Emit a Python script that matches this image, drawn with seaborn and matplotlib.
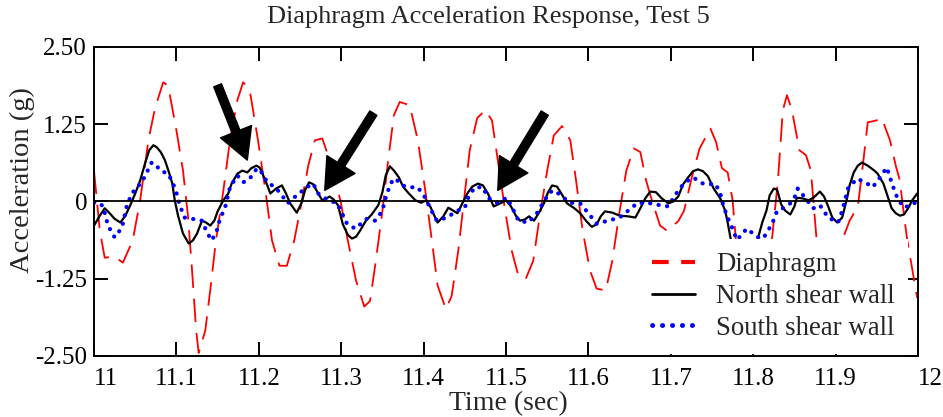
import matplotlib
matplotlib.use('Agg')
import matplotlib.pyplot as plt
import seaborn as sns
import pandas as pd

# Values (time in sec, acceleration in g)
diaphragm_t = [11.000, 11.007, 11.013, 11.025, 11.035, 11.047, 11.056, 11.066, 11.074, 11.084,
               11.090, 11.100, 11.108, 11.114, 11.119, 11.124, 11.127, 11.135, 11.141, 11.148,
               11.157, 11.165, 11.174, 11.181, 11.189, 11.199, 11.208, 11.216, 11.225, 11.234,
               11.243, 11.250, 11.260, 11.268, 11.277, 11.286, 11.299, 11.308, 11.318, 11.328,
               11.335, 11.342, 11.350, 11.357, 11.364, 11.371, 11.383, 11.393, 11.402, 11.410,
               11.417, 11.427, 11.434, 11.442, 11.449, 11.456, 11.465, 11.475, 11.483, 11.490,
               11.499, 11.507, 11.515, 11.524, 11.533, 11.541, 11.550, 11.558, 11.568, 11.578,
               11.585, 11.593, 11.602, 11.610, 11.621, 11.629, 11.637, 11.646, 11.655, 11.663,
               11.670, 11.677, 11.687, 11.695, 11.709, 11.716, 11.726, 11.735, 11.748, 11.755,
               11.762, 11.769, 11.775, 11.779, 11.790, 11.806, 11.823, 11.830, 11.836, 11.841,
               11.847, 11.856, 11.864, 11.870, 11.874, 11.877, 11.893, 11.911, 11.917, 11.927,
               11.933, 11.939, 11.949, 11.956, 11.966, 11.973, 11.978, 11.983, 11.987, 11.999]
diaphragm_g = [0.50, -0.47, -0.91, -0.89, -0.99, -0.63, 0.02, 0.99, 1.51, 1.93,
               1.87, 1.15, 0.50, -0.23, -1.12, -2.09, -2.45, -2.09, -1.44, -0.63,
               0.18, 0.99, 1.64, 1.93, 1.80, 0.99, 0.18, -0.63, -1.04, -1.04,
               -0.63, -0.15, 0.58, 0.99, 1.02, 0.67, 0.02, -0.63, -1.28, -1.70,
               -1.61, -0.96, -0.15, 0.67, 1.40, 1.61, 1.56, 0.99, 0.18, -0.63,
               -1.36, -1.74, -1.53, -0.80, 0.02, 0.83, 1.35, 1.48, 1.31, 0.67,
               -0.15, -0.80, -1.20, -1.25, -0.96, -0.23, 0.50, 1.07, 1.22, 0.99,
               0.34, -0.47, -1.12, -1.41, -1.44, -0.96, -0.23, 0.50, 0.86, 0.80,
               0.34, 0.02, -0.39, -0.47, -0.32, -0.15, 0.42, 0.86, 1.18, 0.96,
               0.54, 0.47, 0.02, -0.63, -1.60, -1.28, -0.58, 0.34, 1.48, 1.72,
               1.48, 0.83, 0.75, 0.50, -0.15, -0.63, -1.45, -0.52, -0.31, -0.08,
               0.58, 1.28, 1.31, 1.35, 0.99, 0.58, 0.34, -0.23, -0.63, -1.56]

north_t = [11.000, 11.007, 11.013, 11.019, 11.025, 11.032, 11.038, 11.044, 11.050, 11.056,
           11.062, 11.067, 11.072, 11.076, 11.081, 11.086, 11.091, 11.095, 11.098, 11.102,
           11.108, 11.115, 11.120, 11.125, 11.131, 11.136, 11.141, 11.146, 11.150, 11.157,
           11.163, 11.167, 11.174, 11.180, 11.186, 11.191, 11.197, 11.201, 11.208, 11.214,
           11.221, 11.228, 11.233, 11.238, 11.246, 11.252, 11.256, 11.261, 11.266, 11.272,
           11.277, 11.282, 11.286, 11.291, 11.296, 11.302, 11.308, 11.313, 11.318, 11.323,
           11.330, 11.337, 11.345, 11.350, 11.354, 11.359, 11.364, 11.370, 11.375, 11.382,
           11.390, 11.397, 11.403, 11.408, 11.413, 11.417, 11.424, 11.430, 11.436, 11.441,
           11.447, 11.453, 11.459, 11.466, 11.472, 11.478, 11.485, 11.493, 11.500, 11.506,
           11.512, 11.517, 11.523, 11.528, 11.534, 11.540, 11.546, 11.551, 11.556, 11.562,
           11.568, 11.574, 11.583, 11.590, 11.597, 11.604, 11.610, 11.615, 11.620, 11.629,
           11.638, 11.648, 11.657, 11.663, 11.669, 11.675, 11.682, 11.689, 11.697, 11.703,
           11.709, 11.715, 11.721, 11.727, 11.733, 11.739, 11.745, 11.752, 11.760, 11.766,
           11.769, 11.773, 11.784, 11.796, 11.805, 11.811, 11.816, 11.820, 11.825, 11.829,
           11.834, 11.839, 11.845, 11.850, 11.853, 11.860, 11.867, 11.873, 11.881, 11.886,
           11.891, 11.896, 11.902, 11.908, 11.914, 11.917, 11.922, 11.927, 11.932, 11.939,
           11.947, 11.951, 11.958, 11.962, 11.968, 11.973, 11.978, 11.983, 11.988, 11.993,
           11.999]
north_g = [-0.39, -0.23, -0.11, -0.19, -0.28, -0.34, -0.23, -0.06, 0.13, 0.34,
           0.62, 0.83, 0.91, 0.88, 0.80, 0.67, 0.47, 0.29, 0.02, -0.23,
           -0.52, -0.68, -0.63, -0.52, -0.31, -0.34, -0.39, -0.31, -0.16, 0.02,
           0.13, 0.29, 0.45, 0.50, 0.47, 0.54, 0.58, 0.55, 0.34, 0.13,
           0.21, 0.26, 0.13, -0.03, -0.18, -0.02, 0.18, 0.31, 0.28, 0.13,
           0.02, 0.05, 0.08, 0.03, -0.06, -0.37, -0.54, -0.60, -0.57, -0.47,
           -0.31, -0.21, -0.06, 0.15, 0.42, 0.57, 0.50, 0.39, 0.24, 0.13,
           0.02, -0.02, 0.02, -0.08, -0.23, -0.34, -0.24, -0.10, -0.15, -0.19,
           -0.03, 0.13, 0.24, 0.29, 0.26, 0.13, -0.08, -0.03, 0.02, -0.08,
           -0.23, -0.31, -0.29, -0.24, -0.31, -0.18, -0.03, 0.15, 0.26, 0.24,
           0.11, -0.03, -0.11, -0.19, -0.31, -0.41, -0.37, -0.24, -0.16, -0.18,
           -0.23, -0.24, -0.26, -0.11, 0.05, 0.16, 0.15, 0.05, -0.03, 0.00,
           0.08, 0.28, 0.39, 0.49, 0.52, 0.49, 0.41, 0.21, 0.05, -0.15,
           -0.34, -0.63, -0.83, -0.80, -0.63, -0.34, -0.15, 0.10, 0.21, 0.19,
           -0.05, -0.15, -0.21, -0.08, 0.06, 0.05, 0.02, 0.06, 0.16, 0.08,
           -0.08, -0.26, -0.34, -0.26, 0.06, 0.26, 0.47, 0.58, 0.63, 0.58,
           0.50, 0.45, 0.29, 0.13, -0.11, -0.19, -0.23, -0.21, -0.11, 0.02,
           0.13]

south_t = [11.000, 11.006, 11.011, 11.017, 11.025, 11.034, 11.040, 11.046, 11.052, 11.058,
           11.064, 11.070, 11.075, 11.080, 11.090, 11.096, 11.101, 11.104, 11.110, 11.119,
           11.131, 11.137, 11.143, 11.149, 11.153, 11.159, 11.165, 11.174, 11.181, 11.189,
           11.198, 11.205, 11.210, 11.220, 11.228, 11.235, 11.246, 11.258, 11.266, 11.272,
           11.283, 11.295, 11.301, 11.307, 11.317, 11.323, 11.331, 11.341, 11.350, 11.353,
           11.357, 11.363, 11.368, 11.374, 11.383, 11.393, 11.402, 11.408, 11.416, 11.428,
           11.441, 11.450, 11.454, 11.462, 11.472, 11.478, 11.489, 11.501, 11.508, 11.515,
           11.527, 11.538, 11.545, 11.553, 11.559, 11.566, 11.578, 11.590, 11.600, 11.610,
           11.624, 11.638, 11.648, 11.660, 11.675, 11.687, 11.697, 11.705, 11.714, 11.721,
           11.727, 11.733, 11.739, 11.748, 11.754, 11.760, 11.763, 11.768, 11.775, 11.780,
           11.786, 11.792, 11.800, 11.806, 11.812, 11.818, 11.823, 11.829, 11.836, 11.845,
           11.850, 11.854, 11.863, 11.873, 11.881, 11.891, 11.903, 11.908, 11.915, 11.926,
           11.936, 11.945, 11.954, 11.962, 11.966, 11.970, 11.976, 11.984, 11.993, 11.999]
south_g = [-0.02, -0.02, -0.08, -0.39, -0.58, -0.42, -0.06, 0.13, 0.23, 0.31,
           0.47, 0.63, 0.60, 0.50, 0.45, 0.29, 0.10, -0.06, -0.26, -0.28,
           -0.31, -0.50, -0.63, -0.47, -0.28, -0.10, 0.23, 0.42, 0.31, 0.37,
           0.54, 0.45, 0.31, 0.23, 0.10, -0.03, 0.10, 0.23, 0.29, 0.13,
           0.03, -0.03, -0.19, -0.36, -0.44, -0.37, -0.28, -0.31, -0.15, 0.02,
           0.18, 0.37, 0.34, 0.26, 0.23, 0.23, 0.06, -0.11, -0.31, -0.26,
           -0.15, -0.10, 0.06, 0.23, 0.23, 0.06, -0.02, 0.06, -0.11, -0.31,
           -0.34, -0.18, -0.02, 0.15, 0.18, 0.10, -0.02, -0.03, -0.19, -0.36,
           -0.31, -0.26, -0.15, -0.02, -0.03, -0.06, -0.08, 0.10, 0.26, 0.34,
           0.39, 0.34, 0.29, 0.28, 0.29, 0.13, -0.03, -0.23, -0.44, -0.62,
           -0.54, -0.44, -0.52, -0.58, -0.60, -0.47, -0.36, -0.15, -0.11, -0.03,
           0.06, 0.21, 0.06, -0.11, -0.06, -0.26, -0.34, -0.15, 0.21, 0.37,
           0.31, 0.23, 0.39, 0.55, 0.39, 0.23, 0.02, -0.10, -0.03, -0.02]

x_ticks = [11.0, 11.1, 11.2, 11.3, 11.4, 11.5, 11.6, 11.7, 11.8, 11.9, 12.0]
x_tick_labels = ['11', '11.1', '11.2', '11.3', '11.4', '11.5', '11.6', '11.7', '11.8', '11.9', '12']
y_ticks = [-2.5, -1.25, 0, 1.25, 2.5]
y_tick_labels = ['-2.50', '-1.25', '0', '1.25', '2.50']

# arrows pointing at the high frequency bumps: (tail, tip)
arrows = [((11.150, 1.88), (11.186, 0.67)),
          ((11.339, 1.43), (11.280, 0.18)),
          ((11.547, 1.43), (11.490, 0.18))]

sns.set_style('ticks')
plt.rcParams['font.family'] = ['Liberation Serif', 'DejaVu Serif']

fig = plt.figure(figsize=(9.43, 4.17), dpi=100)
ax = fig.add_axes([0.0997, 0.1463, 0.8738, 0.741])

dia = pd.DataFrame({'t': diaphragm_t, 'g': diaphragm_g})
north = pd.DataFrame({'t': north_t, 'g': north_g})
south = pd.DataFrame({'t': south_t, 'g': south_g})

sns.lineplot(data=dia, x='t', y='g', ax=ax, color='#ff0000', linewidth=1.3,
             linestyle=(0, (13, 6)), label='Diaphragm', estimator=None, zorder=2)
sns.lineplot(data=north, x='t', y='g', ax=ax, color='black', linewidth=1.6,
             label='North shear wall', estimator=None, zorder=3)
sns.lineplot(data=south, x='t', y='g', ax=ax, color='#0000ff', linewidth=3.0,
             linestyle=(0, (0.05, 2.0)), dash_capstyle='round',
             label='South shear wall', estimator=None, zorder=4)

ax.axhline(0, color='black', linewidth=1.3, zorder=5)

for tail, tip in arrows:
    ax.annotate('', xy=tip, xytext=tail,
                arrowprops=dict(facecolor='black', edgecolor='black',
                                width=6, headwidth=24, headlength=22),
                zorder=6)

ax.set_xlim(11, 12)
ax.set_ylim(-2.5, 2.5)
ax.set_xticks(x_ticks)
ax.set_xticklabels(x_tick_labels)
ax.set_yticks(y_ticks)
ax.set_yticklabels(y_tick_labels)
xl = ax.get_xticklabels()
xl[0].set_horizontalalignment('left')
xl[-1].set_horizontalalignment('left')

ax.tick_params(direction='in', top=True, right=True, length=10, width=1.4,
               labelsize=18, pad=5, colors='black')
ax.tick_params(axis='x', pad=9)
for s in ax.spines.values():
    s.set_linewidth(1.4)
    s.set_color('black')
    s.set_zorder(12)

ax.set_title('Diaphragm Acceleration Response, Test 5', fontsize=19, pad=17, x=0.479)
ax.set_xlabel('Time (sec)', fontsize=20)
ax.set_ylabel('Acceleration (g)', fontsize=20.5)
ax.xaxis.set_label_coords(0.503, -0.112)
ax.yaxis.set_label_coords(-0.072, 0.57)

leg = ax.legend(loc='lower right', bbox_to_anchor=(0.988, 0.006), fontsize=19.3,
                frameon=True, fancybox=False, framealpha=1, edgecolor='none',
                facecolor='white', handlelength=1.6, handletextpad=0.8,
                labelspacing=0.25, borderpad=0.5, borderaxespad=0.0)
leg.set_zorder(10)
hl = leg.get_lines()
hl[0].set_linewidth(3)
hl[0].set_linestyle((0, (4, 3)))
hl[1].set_linewidth(2)
hl[2].set_linewidth(3.5)
hl[2].set_linestyle((0, (0.05, 2.0)))

fig.savefig('out.png', dpi=100)
